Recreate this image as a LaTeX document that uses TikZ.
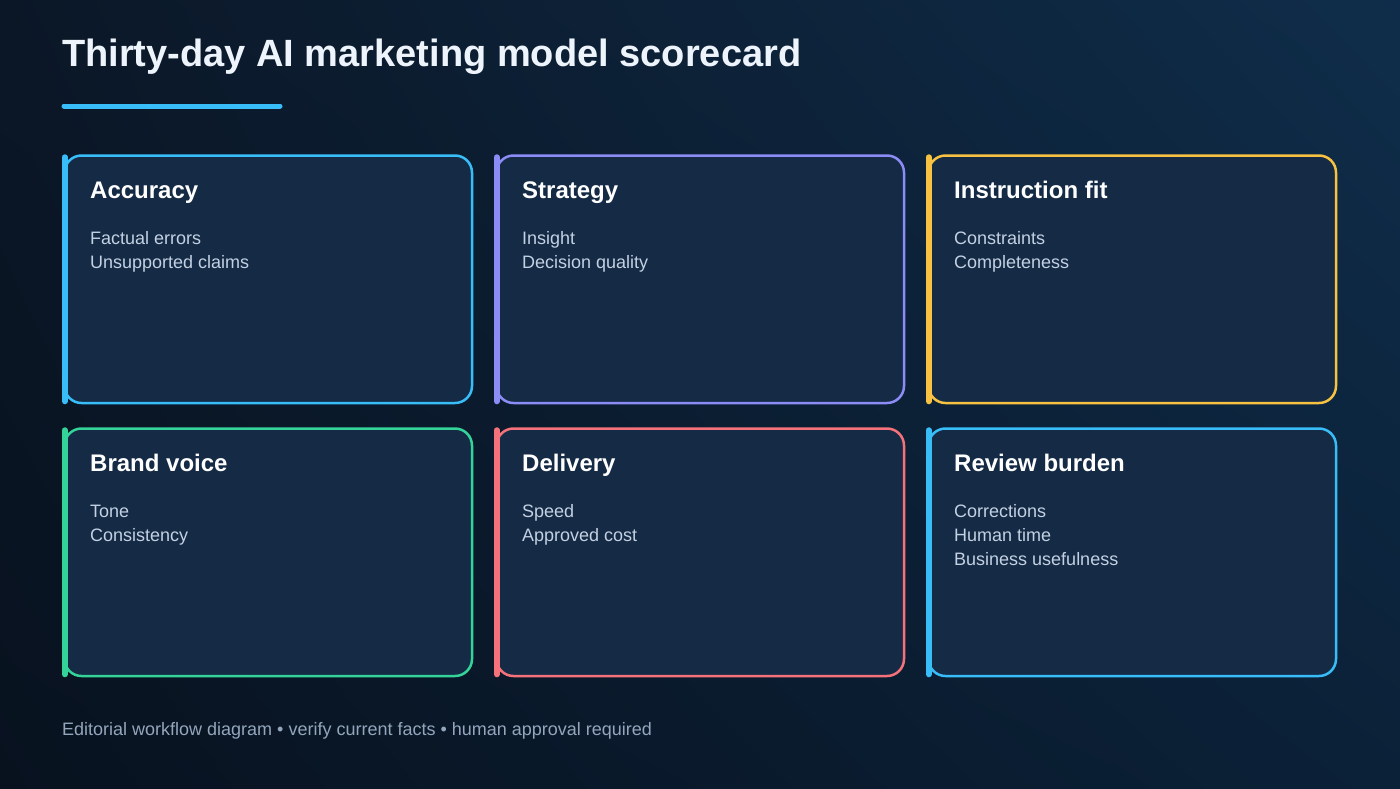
\documentclass[tikz,border=0pt]{standalone}
\usepackage{fontspec}
\setmainfont{Liberation Sans}
\usetikzlibrary{shadings}
\definecolor{bgA}{HTML}{0B1727}
\definecolor{bgB}{HTML}{0F2D4A}
\definecolor{bgC}{HTML}{08121F}
\definecolor{bgD}{HTML}{0B2138}
\definecolor{cardfill}{HTML}{142A45}
\definecolor{cBlue}{HTML}{38BDF8}
\definecolor{cPurple}{HTML}{8B8CF6}
\definecolor{cYellow}{HTML}{F7C241}
\definecolor{cGreen}{HTML}{34D399}
\definecolor{cRed}{HTML}{F5727A}
\definecolor{titlecol}{HTML}{EEF4FB}
\definecolor{bodycol}{HTML}{C3D1E2}
\definecolor{footcol}{HTML}{93A6BC}
\tikzset{
  card/.style={draw=#1, fill=cardfill, line width=2.5pt, rounded corners=17pt,
    minimum width=407.5pt, minimum height=247.5pt, anchor=north west, inner sep=0pt},
  accent/.style={draw=#1, line width=6pt, line cap=round},
  head/.style={anchor=base west, inner sep=0pt, text=white, font=\fontsize{24}{28}\selectfont\bfseries},
  body/.style={anchor=base west, inner sep=0pt, text=bodycol, font=\fontsize{18}{22}\selectfont},
}
\begin{document}
\begin{tikzpicture}[x=1pt,y=-1pt]
\shade[shading=bilinear interpolation, upper left=bgA, upper right=bgB, lower left=bgC, lower right=bgD] (0,0) rectangle (1400,788);
\useasboundingbox (0,0) rectangle (1400,788);
\node[anchor=base west, inner sep=0pt, text=titlecol, font=\fontsize{38}{44}\selectfont\bfseries] (title) at (62,66) {Thirty-day AI marketing model scorecard};
\coordinate (ulA) at (64,106);
\coordinate (ulB) at (280,106);
\draw[cBlue, line width=5pt, line cap=round] (ulA) -- (ulB);

% cards
\foreach \nm/\x/\y/\c in {acc/63.25/154.25/cBlue, str/495.25/154.25/cPurple, ins/927.25/154.25/cYellow,
  brd/63.25/427.25/cGreen, del/495.25/427.25/cRed, rev/927.25/427.25/cBlue}{
  \node[card=\c] (\nm) at (\x,\y) {};
  \draw[accent=\c] ([xshift=1.5pt,yshift=-3pt]\nm.north west) -- ([xshift=1.5pt,yshift=3pt]\nm.south west);
}

\node[head] (accH) at (90,198) {Accuracy};
\node[body] (acc1) at (90,244) {Factual errors};
\node[body] (acc2) at (90,268) {Unsupported claims};

\node[head] (strH) at (522,198) {Strategy};
\node[body] (str1) at (522,244) {Insight};
\node[body] (str2) at (522,268) {Decision quality};

\node[head] (insH) at (954,198) {Instruction fit};
\node[body] (ins1) at (954,244) {Constraints};
\node[body] (ins2) at (954,268) {Completeness};

\node[head] (brdH) at (90,471) {Brand voice};
\node[body] (brd1) at (90,517) {Tone};
\node[body] (brd2) at (90,541) {Consistency};

\node[head] (delH) at (522,471) {Delivery};
\node[body] (del1) at (522,517) {Speed};
\node[body] (del2) at (522,541) {Approved cost};

\node[head] (revH) at (954,471) {Review burden};
\node[body] (rev1) at (954,517) {Corrections};
\node[body] (rev2) at (954,541) {Human time};
\node[body] (rev3) at (954,565) {Business usefulness};

\node[anchor=base west, inner sep=0pt, text=footcol, font=\fontsize{18}{21}\selectfont] (foot) at (62,735) {Editorial workflow diagram • verify current facts • human approval required};
\end{tikzpicture}
\end{document}
